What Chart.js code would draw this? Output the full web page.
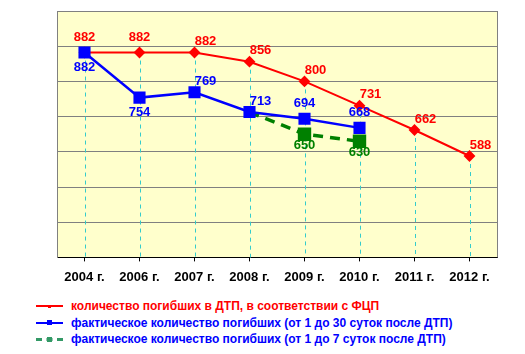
<!DOCTYPE html>
<html>
<head>
<meta charset="utf-8">
<script src="https://cdn.jsdelivr.net/npm/chart.js@4.4.1/dist/chart.umd.min.js"></script>
<style>
  body { margin: 0; background: #fff; }
  #wrap { position: relative; width: 525px; height: 295px; }
  #legend { position: absolute; left: 36px; top: 298px; font: bold 12px "Liberation Sans", Arial, sans-serif; }
  .row { height: 16.5px; display: flex; align-items: center; white-space: nowrap; }
  .sample { position: relative; width: 27px; height: 0; margin-right: 8px; border-top: 2px solid; }
  .sample i { position: absolute; left: 10px; top: -4px; width: 6px; height: 6px; }
</style>
</head>
<body>
<div id="wrap"><canvas id="chart"></canvas></div>
<div id="legend"></div>
<script>
const years = ["2004 г.", "2006 г.", "2007 г.", "2008 г.", "2009 г.", "2010 г.", "2011 г.", "2012 г."];
const planDeaths = [882, 882, 882, 856, 800, 731, 662, 588];
const actual30 = [882, 754, 769, 713, 694, 668, null, null];
const actual7 = [null, null, null, 713, 650, 630, null, null];
const seriesNames = [
  "количество погибших в ДТП, в соответствии с ФЦП",
  "фактическое количество погибших (от 1 до 30 суток после ДТП)",
  "фактическое количество погибших (от 1 до 7 суток после ДТП)",
];

const RED = "#ff0000";
const BLUE = "#0000ff";
const GREEN = "#008000";

// where each value label sits relative to its point
const offsets = {
  above: [0, -15],
  below: [0, 15],
  aboveRight: [11, -11],
  belowGreen: [0, 11],
};

const plotDecor = {
  id: "plotDecor",
  beforeDraw(chart) {
    const { ctx, chartArea: a } = chart;
    ctx.save();
    ctx.fillStyle = "#ffffcc";
    ctx.fillRect(a.left, a.top, a.right - a.left, a.bottom - a.top);
    ctx.restore();
  },
  beforeDatasetsDraw(chart) {
    const { ctx, chartArea: a } = chart;
    ctx.save();
    // drop lines from the plan series down to the axis
    ctx.strokeStyle = "#33cccc";
    ctx.lineWidth = 1;
    ctx.setLineDash([4, 4]);
    chart.getDatasetMeta(0).data.forEach((p) => {
      ctx.beginPath();
      ctx.moveTo(Math.round(p.x) + 0.5, p.y);
      ctx.lineTo(Math.round(p.x) + 0.5, a.bottom);
      ctx.stroke();
    });
    ctx.setLineDash([]);
    ctx.strokeStyle = "#808080";
    ctx.beginPath();
    ctx.moveTo(Math.round(a.right) + 0.5, a.top);
    ctx.lineTo(Math.round(a.right) + 0.5, a.bottom);
    ctx.stroke();
    ctx.restore();
  },
  afterDatasetsDraw(chart) {
    const { ctx } = chart;
    ctx.save();
    ctx.font = "bold 13px 'Liberation Sans', Arial, sans-serif";
    ctx.textAlign = "center";
    ctx.textBaseline = "middle";
    chart.data.datasets.forEach((ds, i) => {
      const meta = chart.getDatasetMeta(i);
      ctx.fillStyle = ds.borderColor;
      meta.data.forEach((p, j) => {
        const v = ds.data[j];
        const place = ds.labelPlace[j];
        if (v == null || !place) return;
        const [dx, dy] = offsets[place];
        ctx.fillText(String(v), p.x + dx, p.y + dy);
      });
    });
    ctx.restore();
  },
};

new Chart(document.getElementById("chart"), {
  type: "line",
  data: {
    labels: years,
    datasets: [
      {
        label: seriesNames[0],
        data: planDeaths,
        borderColor: RED,
        backgroundColor: RED,
        borderWidth: 2,
        pointStyle: "rectRot",
        pointRadius: 4.5,
        order: 3,
        labelPlace: ["above", "above", "aboveRight", "aboveRight", "aboveRight", "aboveRight", "aboveRight", "aboveRight"],
      },
      {
        label: seriesNames[1],
        data: actual30,
        borderColor: BLUE,
        backgroundColor: BLUE,
        borderWidth: 2.5,
        pointStyle: "rect",
        pointRadius: 6.8,
        order: 1,
        labelPlace: ["below", "below", "aboveRight", "aboveRight", "above", "above", null, null],
      },
      {
        label: seriesNames[2],
        data: actual7,
        borderColor: GREEN,
        backgroundColor: GREEN,
        borderWidth: 3.5,
        borderDash: [10, 7],
        pointStyle: "rect",
        pointRadius: [0, 0, 0, 0, 7, 7, 0, 0],
        order: 2,
        labelPlace: [null, null, null, null, "belowGreen", "belowGreen", null, null],
      },
    ],
  },
  options: {
    responsive: true,
    maintainAspectRatio: false,
    animation: false,
    layout: { padding: { left: 57, right: 28, top: 11, bottom: 2 } },
    plugins: {
      legend: { display: false },
      tooltip: { enabled: false },
    },
    scales: {
      x: {
        offset: true,
        grid: { drawOnChartArea: false, drawTicks: true, tickLength: 4, color: "#000" },
        border: { color: "#000", width: 1 },
        ticks: {
          color: "#000",
          padding: 8,
          maxRotation: 0,
          font: { family: "'Liberation Sans', Arial, sans-serif", size: 13, weight: "bold" },
        },
      },
      y: {
        min: 300,
        max: 1000,
        ticks: { display: false, stepSize: 100 },
        grid: { color: "#808080", drawTicks: false },
        border: { color: "#808080" },
      },
    },
  },
  plugins: [plotDecor],
});

// legend below the chart
const legendStyles = [
  { color: RED, dash: "solid", marker: "3px" },
  { color: BLUE, dash: "solid", marker: "5px" },
  { color: "#339966", dash: "dashed", marker: "5px" },
];
const textColors = [RED, BLUE, BLUE];
const legend = document.getElementById("legend");
seriesNames.forEach((name, i) => {
  const st = legendStyles[i];
  const row = document.createElement("div");
  row.className = "row";
  const sample = document.createElement("span");
  sample.className = "sample";
  sample.style.borderTopColor = st.color;
  sample.style.borderTopStyle = st.dash;
  sample.style.borderTopWidth = i === 2 ? "3px" : "2px";
  const mark = document.createElement("i");
  mark.style.background = st.color;
  mark.style.width = st.marker;
  mark.style.height = st.marker;
  mark.style.left = i === 0 ? "12px" : "11px";
  mark.style.top = i === 0 ? "-2.5px" : "-3.5px";
  sample.appendChild(mark);
  const text = document.createElement("span");
  text.textContent = name;
  text.style.color = textColors[i];
  row.appendChild(sample);
  row.appendChild(text);
  legend.appendChild(row);
});
</script>
</body>
</html>
